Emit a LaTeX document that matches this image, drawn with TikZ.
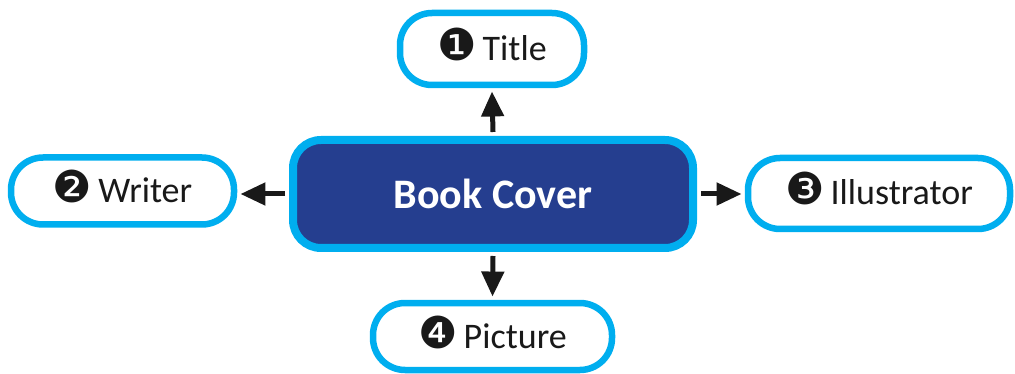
\documentclass[tikz,border=0pt]{standalone}
\usepackage{fontspec}
\setmainfont{Carlito}
\newfontfamily\dingfont{DejaVu Sans}
\usetikzlibrary{arrows.meta}
\definecolor{bordblue}{HTML}{00AEEF}
\definecolor{darkblue}{HTML}{253E8F}
\newcommand{\circnum}[1]{{\dingfont\fontsize{44}{44}\selectfont #1}}
\begin{document}
\begin{tikzpicture}[x=1pt,y=-1pt,
  leaf/.style={draw=bordblue,line width=6.5pt,fill=white,rounded corners=32pt,
    font=\fontsize{36}{40}\selectfont,text=black!90,text height=28pt,text depth=5pt},
  hub/.style={draw=bordblue,line width=8pt,fill=darkblue,rounded corners=28pt,
    font=\bfseries\fontsize{42}{46}\selectfont,text=white},
  conn/.style={line width=5pt,-{Triangle[length=25pt,width=22pt]},black!90}]
\useasboundingbox (0,0) rectangle (1015,374);
\node[hub,minimum width=400pt,minimum height=108pt] (c) at (493,194) {Book Cover};
\node[leaf,minimum width=184pt,minimum height=72pt] (t) at (492,49) {\circnum{❶}\,Title};
\node[leaf,minimum width=223pt,minimum height=67pt] (w) at (122.5,191) {\circnum{❷}\,Writer};
\node[leaf,minimum width=262pt,minimum height=71pt] (i) at (879,193.5) {\circnum{❸}\,Illustrator};
\node[leaf,minimum width=239pt,minimum height=67pt] (p) at (492.5,336.5) {\circnum{❹}\,Picture};
\draw[conn] ([yshift=4pt]c.north) -- ([yshift=-3.2pt]t.south);
\draw[conn] ([xshift=-4pt]c.west) -- ([xshift=3.2pt]c.west -| w.east);
\draw[conn] ([xshift=4pt]c.east) -- ([xshift=-3.2pt]c.east -| i.west);
\draw[conn] ([yshift=-4pt]c.south) -- ([yshift=3.2pt]p.north);
\end{tikzpicture}
\end{document}
